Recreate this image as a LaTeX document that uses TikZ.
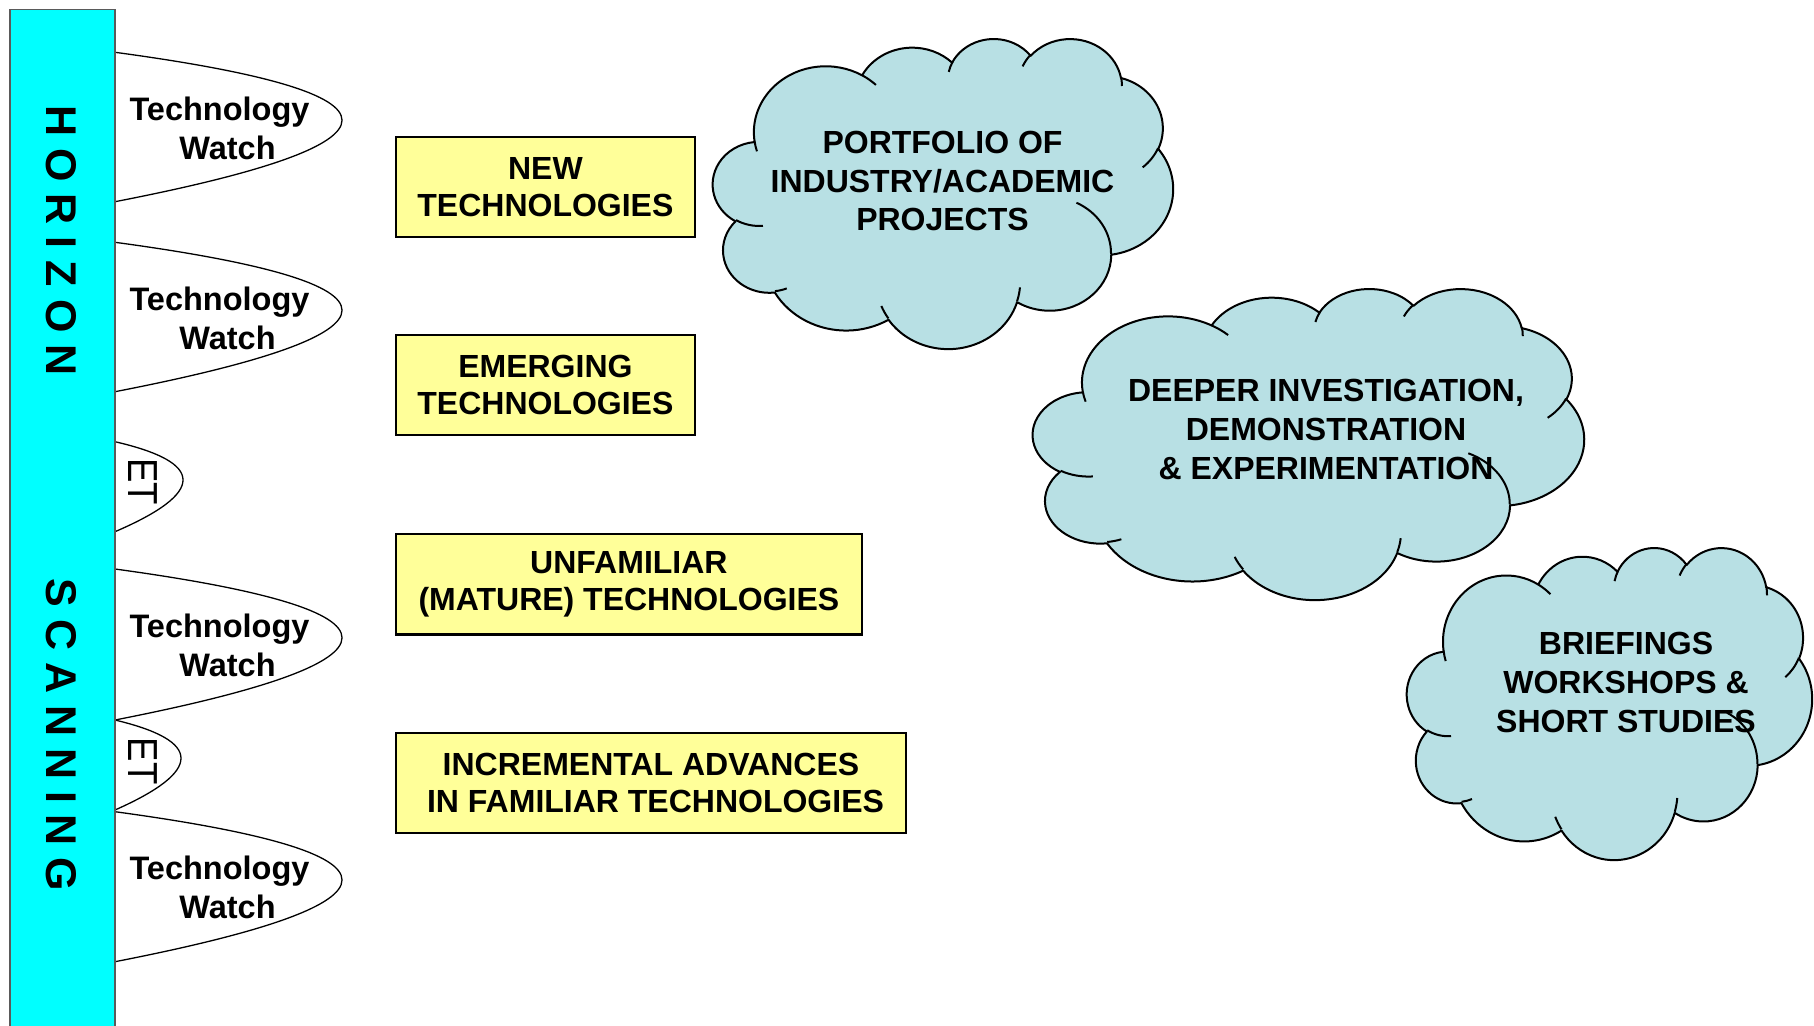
\documentclass[tikz,border=0pt]{standalone}
\usepackage{graphicx}
\usepackage{fontspec}
\setmainfont{Liberation Sans}
\definecolor{barcyan}{RGB}{0,255,255}
\definecolor{boxyellow}{RGB}{255,255,153}
\definecolor{cloudfill}{RGB}{184,224,228}
\definecolor{barline}{RGB}{90,90,90}

% arc in DrawingML style: wR hR stAng swAng (visual angles, degrees)
\newcommand\ooarc[4]{%
  \pgfmathsetmacro\ooa{atan2((#1)*sin(#3),(#2)*cos(#3))}%
  \pgfmathsetmacro\oob{atan2((#1)*sin((#3)+(#4)),(#2)*cos((#3)+(#4)))}%
  \pgfmathsetmacro\oob{\oob+360*((#4)>0)*(\oob<\ooa)-360*((#4)<0)*(\oob>\ooa)}%
  \pgfpatharc{\ooa}{\oob}{#1pt and #2pt}%
}
% cloud: top-left x, top-left y, width, height (pixels)
\newcommand\drawcloud[4]{%
  \begin{scope}[shift={(#1,#2)},xscale=#3/432,yscale=-#4/432]
    \pgfsetfillcolor{cloudfill}\pgfsetstrokecolor{black}\pgfsetlinewidth{2pt}%
    \pgfsetroundjoin
    \pgfpathmoveto{\pgfpoint{39pt}{143.7pt}}%
    \ooarc{67.53}{91.90}{-190.4875}{123.7805}%
    \ooarc{53.33}{72.67}{-144.1024}{89.9452}%
    \ooarc{43.65}{59.45}{-145.8079}{99.7230}%
    \ooarc{48.57}{65.95}{-130.9861}{117.2417}%
    \ooarc{53.33}{72.73}{-78.7089}{109.0269}%
    \ooarc{67.75}{92.20}{-46.2673}{130.2690}%
    \ooarc{57.85}{78.67}{0.6250}{114.0333}%
    \ooarc{67.52}{92.15}{22.4516}{115.1726}%
    \ooarc{77.20}{105.43}{66.2426}{75.7110}%
    \ooarc{43.60}{59.18}{-274.9421}{146.7356}%
    \ooarc{43.45}{59.45}{-246.8285}{152.5189}%
    \pgfpathclose
    \pgfusepath{fill,stroke}%
    \pgfpathmoveto{\pgfpoint{46.93pt}{261.77pt}}\ooarc{43.45}{59.45}{86.7420}{26.4295}%
    \pgfpathmoveto{\pgfpoint{69.28pt}{348.99pt}}\ooarc{43.60}{59.18}{73.6105}{11.4475}%
    \pgfpathmoveto{\pgfpoint{164.78pt}{390.90pt}}\ooarc{67.52}{92.15}{137.6242}{14.0811}%
    \pgfpathmoveto{\pgfpoint{288.27pt}{347.51pt}}\ooarc{67.52}{92.15}{6.4533}{15.9984}%
    \pgfpathmoveto{\pgfpoint{341.29pt}{229.54pt}}\ooarc{57.85}{78.67}{-70.2924}{70.9174}%
    \pgfpathmoveto{\pgfpoint{417.98pt}{153.54pt}}\ooarc{53.33}{72.73}{30.3180}{27.7515}%
    \pgfpathmoveto{\pgfpoint{383.24pt}{54.26pt}}\ooarc{48.57}{65.95}{-13.7443}{14.8589}%
    \pgfpathmoveto{\pgfpoint{290.78pt}{39.52pt}}\ooarc{48.57}{65.95}{-149.1815}{18.1954}%
    \pgfpathmoveto{\pgfpoint{221.41pt}{47.20pt}}\ooarc{43.65}{59.45}{-163.4943}{17.6864}%
    \pgfpathmoveto{\pgfpoint{140.00pt}{51.92pt}}\ooarc{67.53}{91.90}{-66.7070}{12.3194}%
    \pgfpathmoveto{\pgfpoint{41.27pt}{157.89pt}}\ooarc{67.53}{91.90}{157.6544}{11.8582}%
    \pgfusepath{stroke}%
  \end{scope}}

\tikzset{
  barstyle/.style={draw=barline, line width=1.5pt, fill=barcyan, inner sep=0pt},
  lobe/.style={draw=black, line width=1.3pt},
  vertlabel/.style={rotate=-90, inner sep=0pt, font=\fontsize{43}{50}\selectfont\bfseries},
  twtext/.style={align=center, inner sep=0pt, font=\fontsize{32.5}{39}\selectfont\bfseries},
  ettext/.style={rotate=-90, inner sep=0pt, font=\fontsize{42}{48}\selectfont},
  ybox/.style={draw=black, line width=2.3pt, fill=boxyellow, align=center, inner sep=0pt,
    font=\fontsize{32}{37}\selectfont\bfseries},
  cloudtext/.style={align=center, inner sep=0pt, font=\fontsize{32}{38.6}\selectfont\bfseries},
}

\begin{document}
\begin{tikzpicture}[x=1pt,y=-1pt]
\useasboundingbox (0,0) rectangle (1814,1025);
\fill[white] (0,0) rectangle (1814,1025);
\clip (0,0) rectangle (1814,1025);

% lobes (Technology Watch / ET)
\coordinate (tw1t) at (115,52.3);  \coordinate (tw1b) at (115,201.7);
\coordinate (tw2t) at (115,242.3); \coordinate (tw2b) at (115,391.7);
\coordinate (et1t) at (115,441.7); \coordinate (et1b) at (115,531.7);
\coordinate (tw3t) at (115,569);   \coordinate (tw3b) at (115,720);
\coordinate (et2t) at (115,720);   \coordinate (et2b) at (115,810);
\coordinate (tw4t) at (115,811.7); \coordinate (tw4b) at (115,961.7);
\draw[lobe] (tw1t) .. controls (417.7,93.1) and (417.7,142.9) .. (tw1b);
\draw[lobe] (tw2t) .. controls (417.7,283.1) and (417.7,332.9) .. (tw2b);
\draw[lobe] (et1t) .. controls (205.7,462.7) and (205.7,492.7) .. (et1b);
\draw[lobe] (tw3t) .. controls (417.7,610.3) and (417.7,660.7) .. (tw3b);
\draw[lobe] (et2t) .. controls (203,741) and (203,771) .. (et2b);
\draw[lobe] (tw4t) .. controls (417.7,852.7) and (417.7,902.7) .. (tw4b);

% vertical bar
\node[barstyle, minimum width=105pt, minimum height=1030.7pt] (bar) at (62.5,524.65) {};
\node[vertlabel] (horizon) at (61,240.5) {H O R I Z O N};
\node[vertlabel] (scanning) at (61,735) {S C A N N I N G};

\node[twtext] (tw1) at (219.5,128.4) {Technology\\\hspace*{16pt}Watch};
\node[twtext] (tw2) at (219.5,318.6) {Technology\\\hspace*{16pt}Watch};
\node[twtext] (tw3) at (219.5,645.3) {Technology\\\hspace*{16pt}Watch};
\node[twtext] (tw4) at (219.5,887.8) {Technology\\\hspace*{16pt}Watch};
\node[ettext] (et1) at (143,481.5) {\scalebox{0.87}[1]{ET}};
\node[ettext] (et2) at (143,761) {\scalebox{0.87}[1]{ET}};

% yellow boxes
\node[ybox, minimum width=299.3pt, minimum height=100pt] (b1) at (545.4,186.7) {NEW\\TECHNOLOGIES};
\node[ybox, minimum width=299.3pt, minimum height=100pt] (b2) at (545.4,385) {EMERGING\\TECHNOLOGIES};
\node[ybox, minimum width=466.3pt, minimum height=100.3pt] (b3) at (628.9,584.2) {UNFAMILIAR\\(MATURE) TECHNOLOGIES};
\node[ybox, minimum width=510.5pt, minimum height=100pt] (b4) at (651,782.7) {INCREMENTAL ADVANCES\\\hspace*{9pt}IN FAMILIAR TECHNOLOGIES};

% clouds
\drawcloud{713}{38}{460}{310}
\drawcloud{1033}{288}{551}{311}
\drawcloud{1407}{547}{405}{312}
\node[cloudtext] (c1) at (942.5,181) {PORTFOLIO OF\\INDUSTRY/ACADEMIC\\PROJECTS};
\node[cloudtext, font=\fontsize{32}{39}\selectfont\bfseries] (c2) at (1326,429.2) {DEEPER INVESTIGATION,\\DEMONSTRATION\\\& EXPERIMENTATION};
\node[cloudtext] (c3) at (1626,682.5) {BRIEFINGS\\WORKSHOPS \&\\SHORT STUDIES};
\end{tikzpicture}
\end{document}
